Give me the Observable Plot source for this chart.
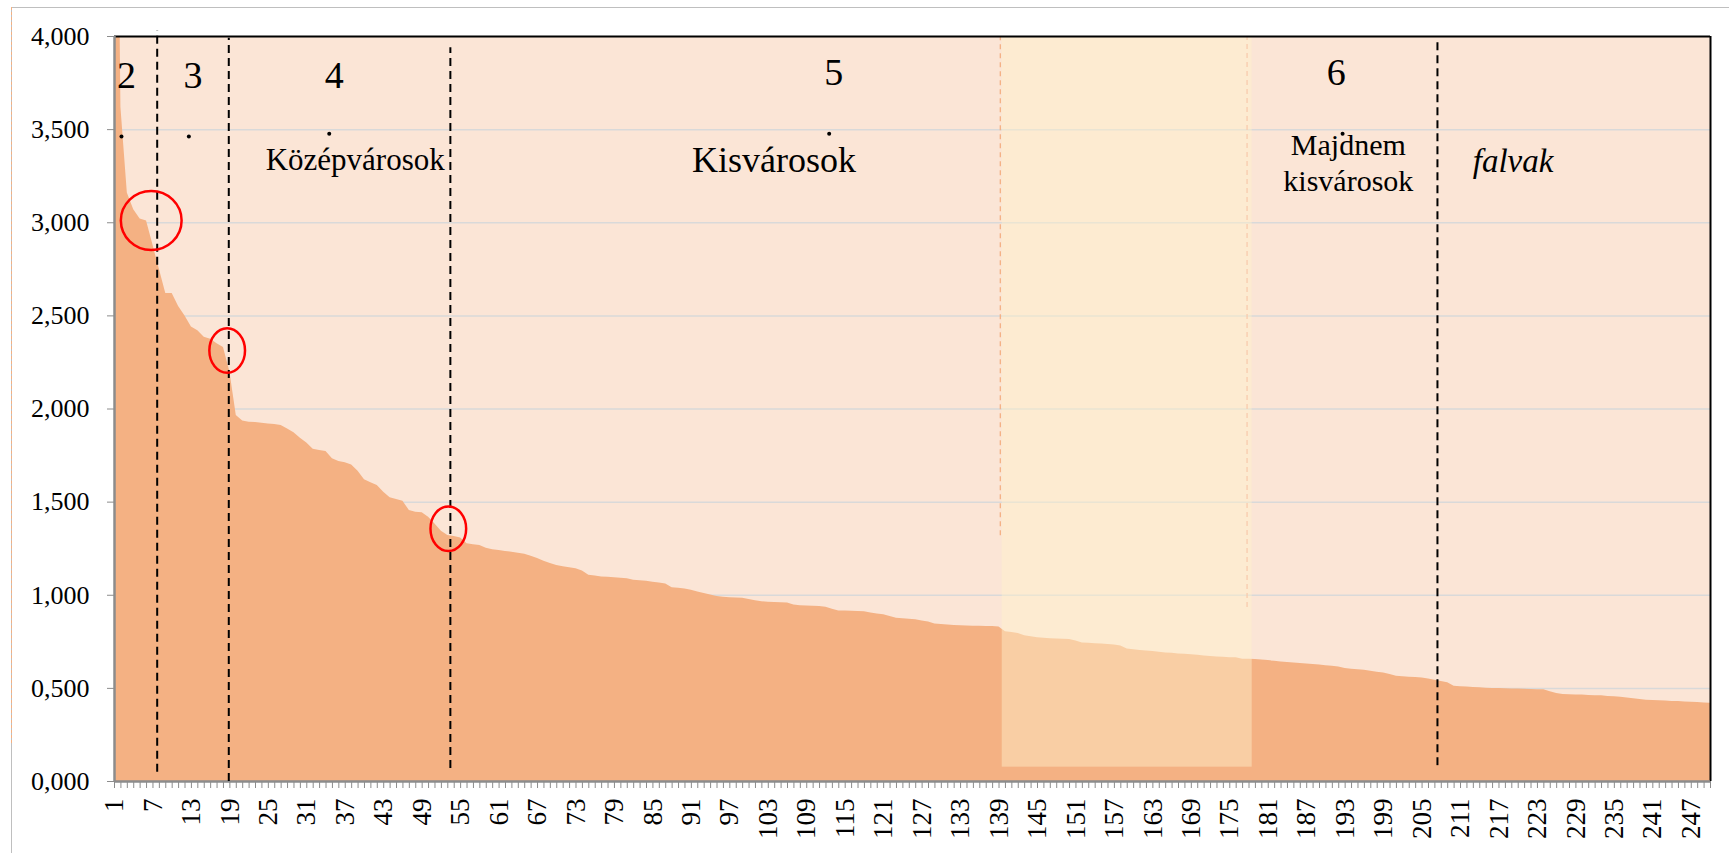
<!DOCTYPE html>
<html><head><meta charset="utf-8">
<script src="https://cdn.jsdelivr.net/npm/d3@7"></script>
<script src="https://cdn.jsdelivr.net/npm/@observablehq/plot@0.6"></script>
<style>
body{margin:0;background:#fff;}
#wrap{position:relative;width:1729px;height:853px;overflow:hidden;background:#fff;}
#border{position:absolute;left:11px;top:7px;width:1730px;height:900px;border:1px solid #BFBFBF;box-sizing:border-box;}
#sel{position:absolute;left:11px;top:7px;width:0;height:736px;border-left:1px dashed #F4B183;}
#chart{position:absolute;left:0;top:0;}
#chart svg, #chart svg text{font-family:"Liberation Serif","Times New Roman",serif !important;}
</style></head><body>
<div id="wrap"><div id="border"></div><div id="sel"></div><div id="chart"></div></div>
<script>
// Ranked settlement index values (category 1..250)
const values = [
  7.0,3.62,3.16,3.07,3.02,3.01,2.88,2.75,2.62,2.62,
  2.55,2.50,2.44,2.42,2.385,2.375,2.35,2.33,2.20,1.965,
  1.935,1.929,1.927,1.924,1.920,1.917,1.911,1.892,1.872,1.843,
  1.817,1.784,1.777,1.772,1.733,1.718,1.711,1.700,1.666,1.620,
  1.604,1.589,1.553,1.523,1.514,1.505,1.455,1.446,1.443,1.419,
  1.383,1.344,1.321,1.315,1.308,1.276,1.271,1.267,1.253,1.244,
  1.240,1.235,1.231,1.225,1.220,1.210,1.197,1.182,1.170,1.160,
  1.153,1.147,1.142,1.130,1.108,1.103,1.098,1.097,1.094,1.091,
  1.088,1.080,1.078,1.075,1.070,1.066,1.061,1.040,1.037,1.033,
  1.027,1.018,1.010,1.001,0.993,0.989,0.987,0.985,0.984,0.977,
  0.970,0.965,0.963,0.961,0.960,0.959,0.947,0.944,0.942,0.941,
  0.940,0.936,0.925,0.916,0.915,0.914,0.913,0.912,0.905,0.899,
  0.895,0.886,0.877,0.874,0.871,0.868,0.862,0.857,0.846,0.843,
  0.840,0.838,0.836,0.835,0.834,0.833,0.832,0.832,0.830,0.804,
  0.800,0.795,0.783,0.777,0.772,0.769,0.767,0.765,0.764,0.762,
  0.755,0.744,0.742,0.740,0.738,0.735,0.733,0.728,0.712,0.708,
  0.703,0.701,0.698,0.694,0.690,0.688,0.685,0.683,0.681,0.678,
  0.674,0.671,0.669,0.667,0.665,0.664,0.657,0.656,0.655,0.652,
  0.649,0.645,0.642,0.639,0.636,0.633,0.631,0.628,0.625,0.622,
  0.619,0.615,0.607,0.603,0.600,0.597,0.592,0.586,0.582,0.574,
  0.565,0.562,0.560,0.558,0.556,0.550,0.543,0.537,0.530,0.511,
  0.509,0.507,0.505,0.503,0.501,0.500,0.499,0.498,0.497,0.496,
  0.495,0.494,0.493,0.492,0.482,0.472,0.467,0.466,0.465,0.464,
  0.462,0.461,0.460,0.457,0.455,0.453,0.448,0.444,0.440,0.436,
  0.435,0.434,0.432,0.430,0.429,0.427,0.425,0.424,0.422,0.420
];
const ranks = values.map((_, i) => i + 1);
const labelRanks = d3.range(1, 251, 6);          // 1, 7, 13, ... 247
const yTicks = [0, 0.5, 1, 1.5, 2, 2.5, 3, 3.5, 4];
const gridValues = [0.5, 1, 1.5, 2, 2.5, 3, 3.5];

// Group boundaries (dashed lines) in rank units
const boundaryX  = [7.66, 18.83, 53.4, 207.4];
const boundaryY1 = [0.05, 0, 0.07, 0.085];
const boundaryY2 = [4.03, 3.99, 3.94, 3.97];

// Group numbers
const groupNums  = ["2", "3", "4", "5", "6"];
const groupNumX  = [2.87, 13.25, 35.3, 113.2, 191.6];
const groupNumY  = [3.726, 3.726, 3.726, 3.737, 3.737];
const dotX = [2.09, 12.6, 34.5, 112.5, 192.6];
const dotY = [3.463, 3.463, 3.478, 3.478, 3.478];

// Group names
const names  = ["Középvárosok", "Kisvárosok", "Majdnem\nkisvárosok"];
const nameX  = [38.55, 103.9, 193.5];
const nameY  = [3.284, 3.271, 3.169];
const nameSize = [31, 36, 30];
const italicName = "falvak", italicX = 219.2, italicY = 3.27;

// Highlighted band
const bandX1 = 139.5, bandX2 = 178.5, bandY1 = 0.077, bandY2 = 4;
const bandEdgeX = [139.2, 177.7], bandEdgeY1 = [1.32, 0.934];

// Red markers
const ringX = [6.73], ringY = [3.012];
const ellX = [18.58, 53.08], ellY = [2.314, 1.357];

const fmt = v => v.toFixed(3).replace(".", ",");

function ellipseSymbol(k) {
  return {draw(ctx, size) {
    const ry = Math.sqrt(size / Math.PI), rx = ry * k, c = 0.5523;
    ctx.moveTo(rx, 0);
    ctx.bezierCurveTo(rx, c*ry, c*rx, ry, 0, ry);
    ctx.bezierCurveTo(-c*rx, ry, -rx, c*ry, -rx, 0);
    ctx.bezierCurveTo(-rx, -c*ry, -c*rx, -ry, 0, -ry);
    ctx.bezierCurveTo(c*rx, -ry, rx, -c*ry, rx, 0);
    ctx.closePath();
  }};
}

const data = ranks.map((r, i) => ({rank: r, value: values[i]}));
const serif = "Liberation Serif";

const chart = Plot.plot({
  width: 1729, height: 853,
  marginLeft: 114, marginRight: 19, marginTop: 36, marginBottom: 72,
  x: {type: "linear", domain: [1, 250]},
  y: {domain: [0, 4]},
  style: {fontFamily: serif, fontSize: "26px", color: "#000", background: "transparent", overflow: "visible"},
  marks: [
    Plot.frame({fill: "#FBE5D6", stroke: null}),
    Plot.ruleY(gridValues, {stroke: "#D9D9D9", strokeWidth: 1.5}),
    Plot.areaY(data, {x: "rank", y: "value", fill: "#F4B183", clip: true}),
    Plot.rect([0], {x1: () => bandX1, x2: () => bandX2, y1: () => bandY1, y2: () => bandY2, fill: "#FFF2CC", fillOpacity: 0.45}),
    Plot.ruleX(bandEdgeX, {x: d => d, y1: (d, i) => bandEdgeY1[i], y2: 4, stroke: (d, i) => i ? "#F8CBAD" : "#F4B183", strokeWidth: 1.3, strokeDasharray: "5,4"}),
    // axes lines
    Plot.ruleY([4], {stroke: "#000", strokeWidth: 2}),
    Plot.ruleX([250], {stroke: "#000", strokeWidth: 2}),
    Plot.ruleX([1], {stroke: "#8C8C8C", strokeWidth: 2.5}),
    Plot.ruleY([0], {stroke: "#8C8C8C", strokeWidth: 2.5}),
    Plot.axisY(yTicks, {anchor: "left", tickSize: 7, tickPadding: 18, tickFormat: fmt, stroke: "#8C8C8C", fontSize: 26, fontFamily: serif, label: null}),
    Plot.axisX(ranks, {anchor: "bottom", tickSize: 7, tickFormat: () => "", stroke: "#8C8C8C", strokeWidth: 1, label: null}),
    Plot.axisX(labelRanks, {anchor: "bottom", tickSize: 0, tickPadding: 17, tickRotate: -90, fontSize: 27, fontFamily: serif, tickFormat: d => String(d), label: null}),
    // group boundaries
    Plot.ruleX(boundaryX, {x: d => d, y1: (d, i) => boundaryY1[i], y2: (d, i) => boundaryY2[i], stroke: "#000", strokeWidth: 2, strokeDasharray: "8,5"}),
    // labels
    Plot.text(groupNums, {x: (d, i) => groupNumX[i], y: (d, i) => groupNumY[i], text: d => d, fontSize: 38, fontFamily: serif, lineAnchor: "bottom", textAnchor: "middle", fill: "#000"}),
    Plot.dot(dotX, {x: d => d, y: (d, i) => dotY[i], r: 2, fill: "#000"}),
    Plot.text(names, {x: (d, i) => nameX[i], y: (d, i) => nameY[i], text: d => d, fontSize: (d, i) => nameSize[i], fontFamily: serif, lineAnchor: "bottom", lineHeight: 1.2, textAnchor: "middle", fill: "#000"}),
    Plot.text([italicName], {x: () => italicX, y: () => italicY, text: d => d, fontSize: 33, fontFamily: serif, fontStyle: "italic", lineAnchor: "bottom", textAnchor: "middle", fill: "#000"}),
    // red markers
    Plot.dot(ringX, {x: d => d, y: (d, i) => ringY[i], r: 29.5, symbol: ellipseSymbol(1.03), stroke: "#FF0000", strokeWidth: 2.5, fill: "none"}),
    Plot.dot(ellX, {x: d => d, y: (d, i) => ellY[i], r: 22.3, symbol: ellipseSymbol(0.8), stroke: "#FF0000", strokeWidth: 2.5, fill: "none"})
  ]
});
document.getElementById("chart").appendChild(chart);
</script>
</body></html>
